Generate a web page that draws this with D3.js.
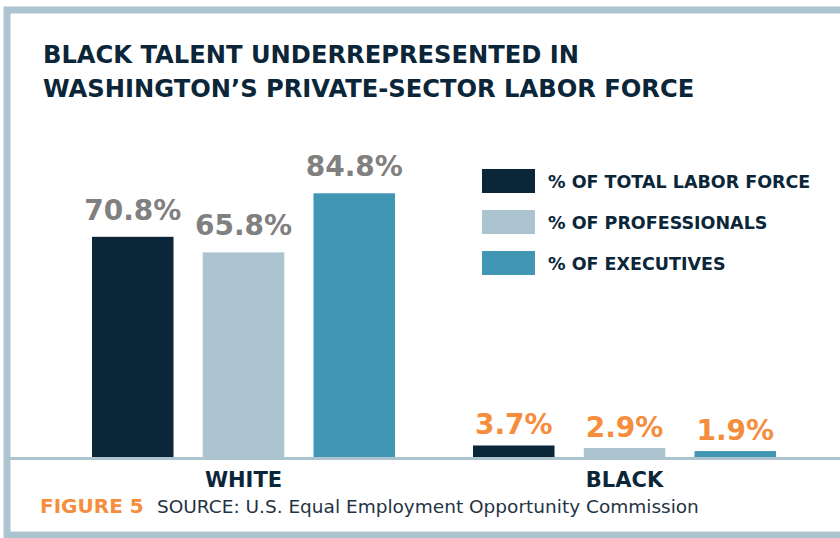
<!DOCTYPE html>
<html>
<head>
<meta charset="utf-8">
<script src="https://cdn.jsdelivr.net/npm/d3@7"></script>
<style>
  body { margin: 0; background: #fff; }
  svg { display: block; }
  text { font-family: "DejaVu Sans", sans-serif; }
</style>
</head>
<body>
<svg id="chart"></svg>
<script>
var groups = ["WHITE", "BLACK"];
var series = ["% OF TOTAL LABOR FORCE", "% OF PROFESSIONALS", "% OF EXECUTIVES"];
var whiteVals = [70.8, 65.8, 84.8];
var blackVals = [3.7, 2.9, 1.9];
var labelColors = {WHITE: "#808080", BLACK: "#f68d3c"};

var colors = ["#0b2639", "#abc4cf", "#4096b3"];
var frame = "#abc4d0";
var navy = "#0b2639";

var W = 840, H = 538;
var svg = d3.select("#chart").attr("width", W).attr("height", H);

// frame (right edge runs off the picture)
svg.append("rect").attr("x", 7).attr("y", 10).attr("width", W + 20).attr("height", 525)
   .attr("fill", "none").attr("stroke", frame).attr("stroke-width", 7);

// title
var title = svg.append("text").attr("x", 43).attr("fill", navy)
   .style("font-weight", "bold").style("font-size", "24.2px");
title.append("tspan").attr("x", 43).attr("y", 63).text("BLACK TALENT UNDERREPRESENTED IN");
title.append("tspan").attr("x", 43).attr("y", 97).text("WASHINGTON\u2019S PRIVATE-SECTOR LABOR FORCE");

// scales
var base = 457;
var x0 = d3.scalePoint().domain(groups).range([243.5, 624.5]);
var x1 = d3.scaleBand().domain(series).range([-151.5, 151.5]).paddingInner(0.264);
var y = d3.scaleLinear().domain([0, 100]).range([base, base - 311]);

var data = [];
groups.forEach(function(g) {
  var vals = g == "WHITE" ? whiteVals : blackVals;
  series.forEach(function(s, i) { data.push({group: g, key: s, value: vals[i], idx: i}); });
});

svg.selectAll("rect.bar")
   .data(data)
   .enter()
   .append("rect")
   .attr("class", "bar")
   .attr("x", function(d) { return x0(d.group) + x1(d.key); })
   .attr("y", function(d) { return y(d.value); })
   .attr("width", x1.bandwidth())
   .attr("height", function(d) { return base - y(d.value); })
   .attr("fill", function(d) { return colors[d.idx]; });

svg.selectAll("text.val")
   .data(data)
   .enter()
   .append("text")
   .attr("class", "val")
   .attr("x", function(d) { return x0(d.group) + x1(d.key) + x1.bandwidth() / 2; })
   .attr("y", function(d) { return y(d.value) - (d.group == "WHITE" ? 17 : 11); })
   .attr("text-anchor", "middle")
   .attr("fill", function(d) { return labelColors[d.group]; })
   .style("font-weight", "bold").style("font-size", "28px")
   .text(function(d) { return d.value.toFixed(1) + "%"; });

// baseline
svg.append("line").attr("x1", 10).attr("x2", W).attr("y1", base + 1.5).attr("y2", base + 1.5)
   .attr("stroke", frame).attr("stroke-width", 3);

// group labels
svg.selectAll("text.cat")
   .data(groups)
   .enter()
   .append("text")
   .attr("class", "cat")
   .attr("x", function(d) { return x0(d); })
   .attr("y", 487)
   .attr("text-anchor", "middle")
   .attr("fill", navy)
   .style("font-weight", "bold").style("font-size", "21px")
   .text(function(d) { return d; });

// legend
var legend = svg.selectAll("g.leg")
   .data(series)
   .enter()
   .append("g")
   .attr("class", "leg")
   .attr("transform", function(d, i) { return "translate(482," + (169 + i * 41) + ")"; });
legend.append("rect").attr("width", 53).attr("height", 24)
   .attr("fill", function(d, i) { return colors[i]; });
legend.append("text").attr("x", 66).attr("y", 18.5).attr("fill", navy)
   .style("font-weight", "bold").style("font-size", "17.5px")
   .text(function(d) { return d; });

// footer
svg.append("text").attr("x", 40).attr("y", 513).attr("fill", "#f68d3c")
   .style("font-weight", "bold").style("font-size", "20px").text("FIGURE 5");
svg.append("text").attr("x", 157).attr("y", 513).attr("fill", "#1f3444")
   .style("font-size", "18.5px").text("SOURCE: U.S. Equal Employment Opportunity Commission");
</script>
</body>
</html>
